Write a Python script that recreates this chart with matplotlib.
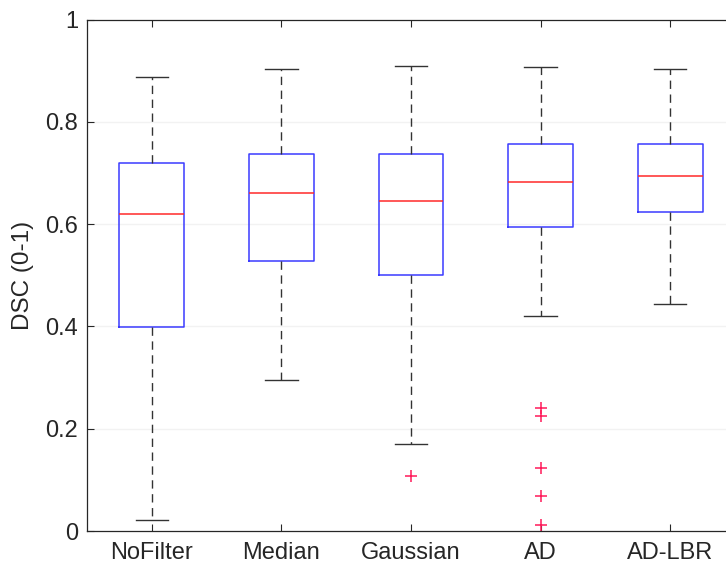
import matplotlib
matplotlib.use("Agg")
import matplotlib.pyplot as plt

categories = ["NoFilter", "Median", "Gaussian", "AD", "AD-LBR"]
whisk_hi = [0.887, 0.903, 0.909, 0.908, 0.903]
q3 = [0.720, 0.738, 0.738, 0.757, 0.757]
med = [0.620, 0.660, 0.646, 0.682, 0.694]
q1 = [0.399, 0.527, 0.500, 0.594, 0.624]
whisk_lo = [0.022, 0.295, 0.171, 0.420, 0.444]
fliers = [[], [], [0.108], [0.241, 0.225, 0.123, 0.069, 0.012], []]
yticks = [0, 0.2, 0.4, 0.6, 0.8, 1]
ytick_labels = ["0", "0.2", "0.4", "0.6", "0.8", "1"]

plt.rcParams["font.family"] = ["Liberation Sans", "DejaVu Sans"]

fig = plt.figure(figsize=(7.26, 5.67), dpi=100)
ax = fig.add_axes([87 / 726, 1 - 531 / 567, (735 - 87) / 726, (531 - 19.5) / 567])

stats = []
for i, c in enumerate(categories):
    stats.append(dict(label=c, whislo=whisk_lo[i], q1=q1[i], med=med[i],
                      q3=q3[i], whishi=whisk_hi[i], fliers=fliers[i]))

ax.bxp(stats, positions=range(1, len(categories) + 1), widths=0.5,
       showfliers=True,
       boxprops=dict(color="#3b3bff", linewidth=1.1),
       medianprops=dict(color="#ff2a2a", linewidth=1.1),
       whiskerprops=dict(color="#333333", linewidth=1.0, linestyle=(0, (6, 4))),
       capprops=dict(color="#333333", linewidth=1.0),
       flierprops=dict(marker="+", markeredgecolor="#ff1a5a", markersize=9,
                       markeredgewidth=1.1, linestyle="none"))

for y in [0.2, 0.4, 0.6, 0.8]:
    ax.axhline(y, color="#f2f2f2", linewidth=1.0, zorder=0)

ax.set_xlim(0.5, 5.5)
ax.set_ylim(0, 1)
ax.set_yticks(yticks)
ax.set_yticklabels(ytick_labels)
ax.set_xticks(range(1, len(categories) + 1))
ax.set_xticklabels(categories)
ax.tick_params(direction="in", length=5, colors="#262626", labelsize=17,
               top=True, right=True, width=0.8)
ax.tick_params(axis="x", pad=8)
ax.tick_params(axis="y", pad=6.5)
for s in ax.spines.values():
    s.set_color("#262626")
    s.set_linewidth(0.9)
ax.set_ylabel("DSC (0-1)", fontsize=17.5, color="#262626", labelpad=8)

fig.savefig("out.png", dpi=100)
